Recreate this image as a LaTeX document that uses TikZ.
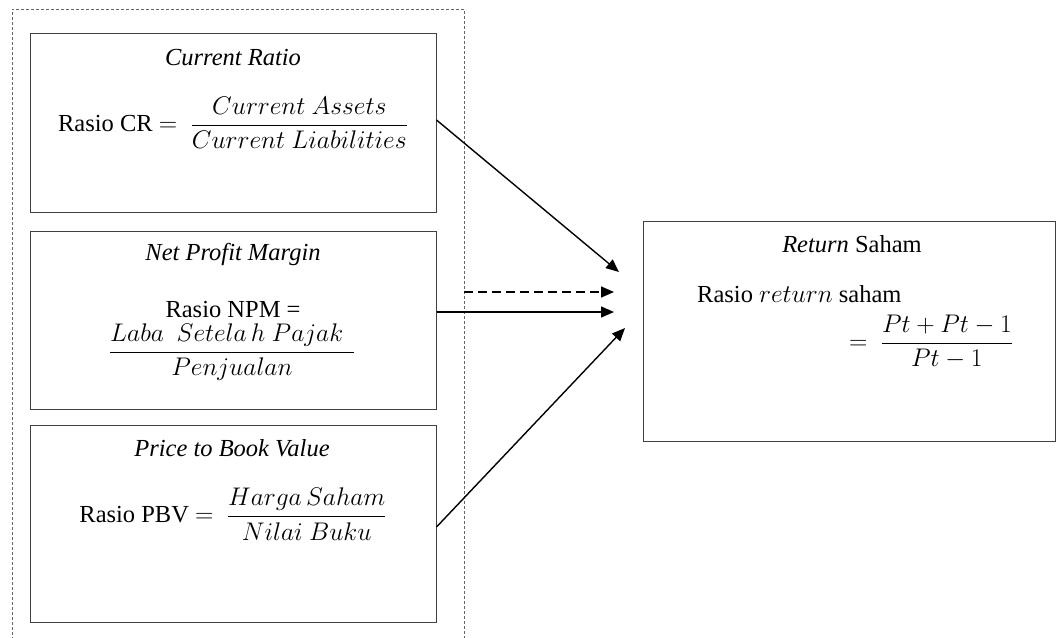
\RequirePackage{fix-cm}
\documentclass[tikz,border=0pt]{standalone}
\usepackage{amsmath}
\usepackage{fontspec}
\setmainfont{Liberation Serif}
\usetikzlibrary{arrows.meta}

% size used for the formulas
\newcommand{\formsize}{\fontsize{25.5}{30}\selectfont}

\tikzset{
  ratiobox/.style={draw=black!75, line width=1pt, inner sep=0pt,
    minimum width=406pt},
  txt/.style={inner sep=0pt, anchor=base, font=\fontsize{24.5}{29}\selectfont},
  link/.style={line width=1.4pt, -{Triangle[length=13pt,width=11pt]}},
  frame/.style={draw=black!60, line width=0.7pt, dash pattern=on 3pt off 2pt}
}

\begin{document}
\begin{tikzpicture}[x=1pt, y=-1pt]
\useasboundingbox (0,0) rectangle (1056,637);

% grouping frame around the three independent variables (open at the bottom)
\draw[frame] (12,640) -- (12,9) -- (464,9) -- (464,640);
\coordinate (frameR) at (464,292);

% independent variables
\node[ratiobox, minimum height=179pt] (cr)  at (233,122.5) {};
\node[ratiobox, minimum height=178pt] (npm) at (233,320) {};
\node[ratiobox, minimum height=197pt] (pbv) at (233,523.5) {};

% dependent variable
\node[ratiobox, minimum width=412pt, minimum height=220pt] (ret) at (849,331) {};

% Current Ratio
\node[txt] (crT) at (233,65) {\textit{Current Ratio}};
\node[txt] (crF) at (233,131.5)
  {Rasio CR {\formsize$=\ \dfrac{Current\ Assets}{Current\ Liabilities}$}};

% Net Profit Margin
\node[txt] (npmT) at (233,260) {\textit{Net Profit Margin}};
\node[txt] (npmL) at (233,317) {Rasio NPM =};
\node[txt] (npmF) at (232,358.5)
  {\formsize$\dfrac{Laba\ \ Setela\,h\ Pajak\ \,}{Penjualan}$};

% Price to Book Value
\node[txt] (pbvT) at (232,456) {\textit{Price to Book Value}};
\node[txt] (pbvF) at (233,522.5)
  {Rasio PBV {\formsize$=\ \dfrac{Harga\,Saham}{Nilai\ Buku}$}};

% Return Saham
\node[txt] (retT) at (852,252) {\textit{Return} Saham};
\node[txt, anchor=base west] (retL) at (697,302)
  {Rasio {\formsize$return$} saham};
\node[txt] (retF) at (931,349.5) {\formsize$=\ \dfrac{Pt+Pt-1}{Pt-1}$};

% arrow tips in front of the dependent variable
\coordinate (tipCR)  at (619,272);
\coordinate (tipD)   at (614,292);
\coordinate (tipNPM) at (614,312);
\coordinate (tipPBV) at (625,328);

\draw[link] ([yshift=2.5pt]cr.east) -- (tipCR);
\draw[link, dash pattern=on 9pt off 5pt] (frameR) -- (tipD);
\draw[link] ([yshift=8pt]npm.east) -- (tipNPM);
\draw[link] ([yshift=-3.5pt]pbv.east) -- (tipPBV);
\end{tikzpicture}
\end{document}
